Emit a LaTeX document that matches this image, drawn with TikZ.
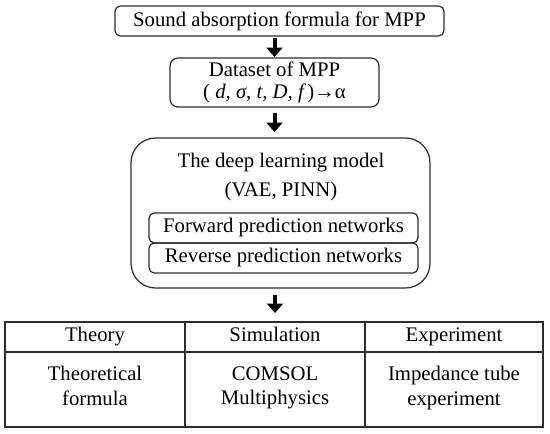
\documentclass[tikz,border=0pt]{standalone}
\usepackage{fontspec}
\setmainfont{Liberation Serif}
\usetikzlibrary{
  arrows.meta,
  positioning,
}
\definecolor{edgecol}{RGB}{45,45,45}
\tikzset{
  basebox/.style={
    rectangle, draw=edgecol, line width=0.7pt,
    inner sep=0pt, outer sep=0pt, align=center,
    font=\fontsize{11.8}{14.5}\selectfont
  },
  formulabox/.style={basebox, rounded corners=3pt, minimum width=6.58cm, minimum height=0.60cm},
  databox/.style={basebox, rounded corners=4.5pt, minimum width=4.18cm, minimum height=0.98cm,
    font=\fontsize{11.8}{12.6}\selectfont},
  modelbox/.style={basebox, rounded corners=14pt, minimum width=5.98cm, minimum height=3.00cm},
  netbox/.style={basebox, rounded corners=3pt, minimum width=5.38cm, minimum height=0.60cm},
  headcell/.style={basebox, minimum height=0.60cm, text height=1.6ex, text depth=0.45ex},
  bodycell/.style={basebox, minimum height=1.50cm, font=\fontsize{11.8}{13.8}\selectfont,
    execute at begin node=\strut, execute at end node=\strut},
  blockarrow/.style={line width=0.08cm, black, -{Triangle[width=0.32cm, length=0.19cm]}},
}

\begin{document}
\begin{tikzpicture}
  \useasboundingbox (0,0) rectangle (11,-8.66);

  % ── Formula and dataset ──
  \node[formulabox] (formula) at (5.59,-0.42) {Sound absorption formula for MPP};
  \node[databox] (dataset) at (5.49,-1.65)
    {Dataset of MPP\\( \textit{d, σ, t, D, f\,})→α};

  % ── Deep learning model ──
  \node[modelbox] (model) at (5.61,-4.26) {};
  \node[basebox, draw=none, font=\fontsize{11.8}{16.5}\selectfont] (modeltitle) at (5.62,-3.55)
    {The deep learning model\\(VAE, PINN)};
  \node[netbox] (fwd) at (5.67,-4.56) {Forward prediction networks};
  \node[netbox, below=0pt of fwd] (rev) {Reverse prediction networks};

  % ── Validation table ──
  \node[headcell, minimum width=3.60cm] (th1) at (1.90,-6.74) {Theory};
  \node[headcell, minimum width=3.60cm, right=0pt of th1] (th2) {Simulation};
  \node[headcell, minimum width=3.56cm, right=0pt of th2] (th3) {Experiment};
  \node[bodycell, minimum width=3.60cm, below=0pt of th1] (tb1) {Theoretical\\formula};
  \node[bodycell, minimum width=3.60cm, below=0pt of th2] (tb2) {COMSOL\\Multiphysics};
  \node[bodycell, minimum width=3.56cm, below=0pt of th3] (tb3) {Impedance tube\\experiment};

  % ── Block arrows ──
  \draw[blockarrow, shorten <=0.04cm, shorten >=0.02cm]
    (formula.south -| dataset.north) -- (dataset.north);
  \draw[blockarrow, shorten <=0.12cm, shorten >=0.12cm]
    (dataset.south) -- (model.north -| dataset.south);
  \draw[blockarrow, shorten <=0.14cm, shorten >=0.18cm]
    (model.south -| th2.north) -- (th2.north);

\end{tikzpicture}
\end{document}
